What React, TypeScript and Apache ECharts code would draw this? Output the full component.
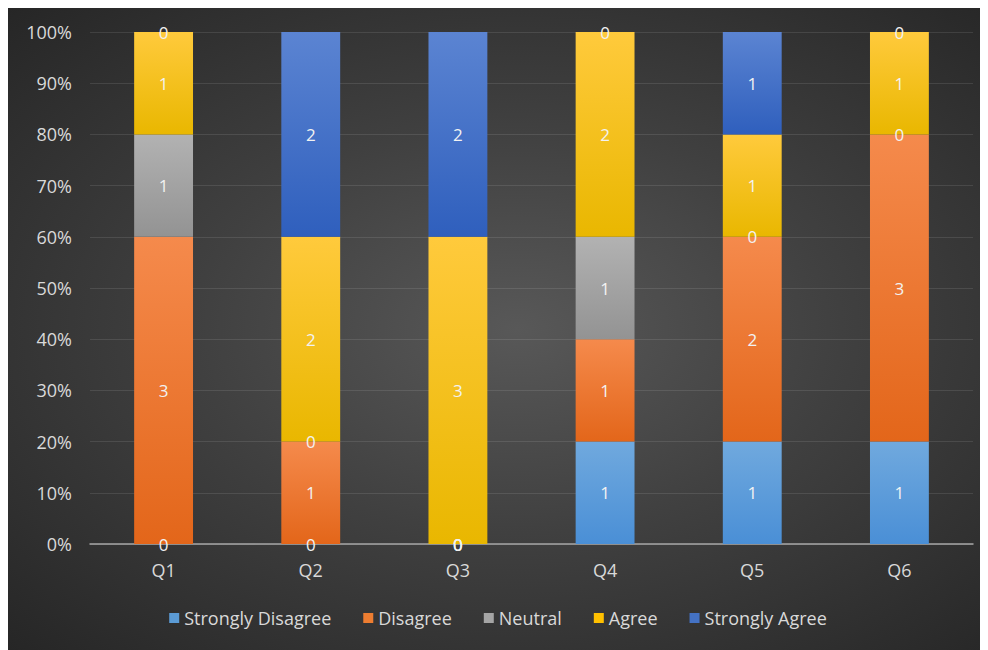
import React, { useEffect, useRef } from "react";
import * as echarts from "echarts";

const categories = ["Q1", "Q2", "Q3", "Q4", "Q5", "Q6"];
const seriesNames = ["Strongly Disagree", "Disagree", "Neutral", "Agree", "Strongly Agree"];
const stronglyDisagree = [0, 0, 0, 1, 1, 1];
const disagree = [3, 1, 0, 1, 2, 3];
const neutral = [1, 0, 0, 1, 0, 0];
const agree = [1, 2, 3, 2, 1, 1];
const stronglyAgree = [0, 2, 2, 0, 1, 0];

const counts = [stronglyDisagree, disagree, neutral, agree, stronglyAgree];
const gradients: [string, string][] = [
  ["#70A9DE", "#4A8FD6"],
  ["#F58A4C", "#E3661A"],
  ["#B2B2B2", "#939393"],
  ["#FFCA3C", "#E9B700"],
  ["#5B84D2", "#2F5FBD"],
];
const legendColors = ["#5B9BD5", "#ED7D31", "#A5A5A5", "#FFC000", "#4472C4"];

const FONT = "Open Sans";

export default function App() {
  const ref = useRef<HTMLDivElement>(null);
  useEffect(() => {
    if (!ref.current) return;
    const chart = echarts.init(ref.current, null, { renderer: "svg" });
    const totals = categories.map((_, i) => counts.reduce((s, arr) => s + arr[i], 0));
    const series = counts.map((arr, si) => ({
      name: seriesNames[si],
      type: "bar",
      stack: "total",
      barWidth: "40%",
      data: arr.map((v, i) => (totals[i] ? (v / totals[i]) * 100 : 0)),
      itemStyle: {
        color: new echarts.graphic.LinearGradient(0, 0, 0, 1, [
          { offset: 0, color: gradients[si][0] },
          { offset: 1, color: gradients[si][1] },
        ]),
      },
      label: {
        show: true,
        position: "inside",
        color: "#F2F2F2",
        fontFamily: FONT,
        fontSize: 17,
        formatter: (p: any) => String(arr[p.dataIndex]),
      },
      emphasis: { disabled: true },
    }));
    chart.setOption({
      animation: false,
      textStyle: { fontFamily: FONT },
      color: legendColors,
      legend: {
        data: seriesNames.map((n, i) => ({ name: n, itemStyle: { color: legendColors[i] } })),
        bottom: 18,
        left: "center",
        icon: "rect",
        itemWidth: 10,
        itemHeight: 10,
        itemGap: 32,
        textStyle: { color: "#D9D9D9", fontSize: 18, fontFamily: FONT },
      },
      grid: { left: 82, right: 15, top: 24, bottom: 106 },
      xAxis: {
        type: "category",
        data: categories,
        axisLine: { lineStyle: { color: "#A6A6A6", width: 1.5 } },
        axisTick: { show: false },
        axisLabel: { color: "#D9D9D9", fontSize: 18, fontFamily: FONT, margin: 17 },
      },
      yAxis: {
        type: "value",
        min: 0,
        max: 100,
        interval: 10,
        axisLine: { show: false },
        axisTick: { show: false },
        axisLabel: { color: "#D9D9D9", fontSize: 18, fontFamily: FONT, margin: 18, formatter: "{value}%" },
        splitLine: { lineStyle: { color: "rgba(255,255,255,0.1)", width: 1 } },
      },
      series,
    });
    return () => chart.dispose();
  }, []);
  return (
    <div
      ref={ref}
      style={{
        width: 980,
        height: 642,
        background: "radial-gradient(ellipse at 52% 50%, #585858 0%, #404040 45%, #262626 100%)",
      }}
    />
  );
}
